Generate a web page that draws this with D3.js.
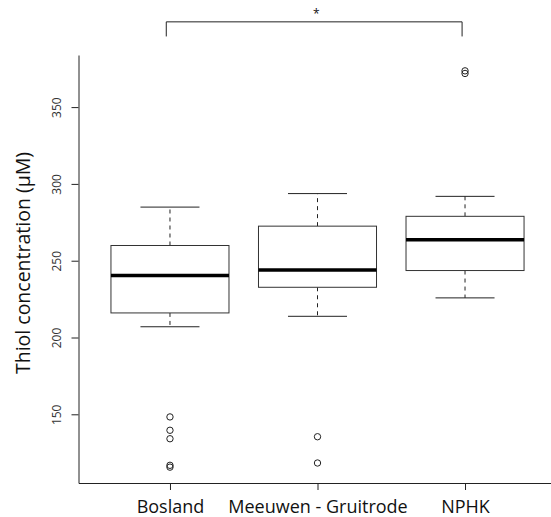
<!DOCTYPE html>
<html>
<head>
<meta charset="utf-8">
<script src="https://cdn.jsdelivr.net/npm/d3@7"></script>
<style>
  body { margin: 0; background: #fff; }
  svg text { font-family: "Open Sans", sans-serif; fill: #111; }
</style>
</head>
<body>
<svg id="chart" width="551" height="517"></svg>
<script>
// box statistics (µM)
const groups = ["Bosland", "Meeuwen - Gruitrode", "NPHK"];
const whiskerLow = [207, 213.8, 225.8];
const q1 = [216, 232.7, 243.6];
const medians = [240.3, 244, 263.6];
const q3 = [259.9, 272.5, 278.9];
const whiskerHigh = [284.9, 293.7, 291.9];
const outliers = [
    [148.3, 139.6, 134.1, 116.8, 115.6],
    [135.4, 118.3],
    [373.6, 371.9]
];
const yTicks = [150, 200, 250, 300, 350];
const yTitle = "Thiol concentration (\u00b5M)";
// significance bracket between Bosland and NPHK
const sigGroups = [0.975, 2.98];
const sigLevels = [396, 405.5];
const sigLabel = "*";

let svg = d3.select("#chart");

// R style: x from 0.5 to n+0.5, both axes padded 4%
let n = groups.length;
let xPad = n * 0.04;
let x = d3.scaleLinear()
    .domain([0.5 - xPad, n + 0.5 + xPad])
    .range([78.5, 556.5]);

let allValues = whiskerLow.concat(whiskerHigh, outliers.flat());
let yMin = d3.min(allValues), yMax = d3.max(allValues);
let yPad = (yMax - yMin) * 0.04;
let y = d3.scaleLinear()
    .domain([yMin - yPad, yMax + yPad])
    .range([483, 55]);

let boxWidth = 0.8;   // boxwex
let stapleWidth = 0.4; // half of box

let data = groups.map(function (g, i) {
    return {
        name: g, pos: i + 1,
        lo: whiskerLow[i], q1: q1[i], med: medians[i], q3: q3[i], hi: whiskerHigh[i],
        out: outliers[i]
    };
});

let box = svg.append("g").selectAll("g")
    .data(data)
    .join("g");

// dashed whiskers
box.append("line")
    .attr("x1", d => x(d.pos)).attr("x2", d => x(d.pos))
    .attr("y1", d => y(d.q3)).attr("y2", d => y(d.hi))
    .attr("stroke", "#222").attr("stroke-dasharray", "4,4");
box.append("line")
    .attr("x1", d => x(d.pos)).attr("x2", d => x(d.pos))
    .attr("y1", d => y(d.q1)).attr("y2", d => y(d.lo))
    .attr("stroke", "#222").attr("stroke-dasharray", "4,4");

// staples
box.append("line")
    .attr("x1", d => x(d.pos - stapleWidth / 2)).attr("x2", d => x(d.pos + stapleWidth / 2))
    .attr("y1", d => y(d.hi)).attr("y2", d => y(d.hi))
    .attr("stroke", "#222");
box.append("line")
    .attr("x1", d => x(d.pos - stapleWidth / 2)).attr("x2", d => x(d.pos + stapleWidth / 2))
    .attr("y1", d => y(d.lo)).attr("y2", d => y(d.lo))
    .attr("stroke", "#222");

// boxes
box.append("rect")
    .attr("x", d => x(d.pos - boxWidth / 2))
    .attr("width", d => x(d.pos + boxWidth / 2) - x(d.pos - boxWidth / 2))
    .attr("y", d => y(d.q3))
    .attr("height", d => y(d.q1) - y(d.q3))
    .attr("fill", "white")
    .attr("stroke", "#333");

// medians
box.append("line")
    .attr("x1", d => x(d.pos - boxWidth / 2)).attr("x2", d => x(d.pos + boxWidth / 2))
    .attr("y1", d => y(d.med)).attr("y2", d => y(d.med))
    .attr("stroke", "black").attr("stroke-width", 3.5);

// outliers
box.selectAll("circle")
    .data(d => d.out.map(v => ({ pos: d.pos, v: v })))
    .join("circle")
    .attr("cx", d => x(d.pos))
    .attr("cy", d => y(d.v))
    .attr("r", 3.2)
    .attr("fill", "none")
    .attr("stroke", "#222");

// y axis
let yAxis = svg.append("g")
    .attr("transform", "translate(" + x.range()[0] + ",0)")
    .call(d3.axisLeft(y).tickValues(yTicks).tickSize(7).tickSizeOuter(0));
yAxis.selectAll("text")
    .attr("transform", "rotate(-90)")
    .attr("x", 0).attr("y", -18).attr("dy", 0)
    .attr("text-anchor", "middle")
    .attr("font-size", "12px")
    .style("fill", "#333");

// x axis
let xAxis = svg.append("g")
    .attr("transform", "translate(0," + y.range()[0] + ")")
    .call(d3.axisBottom(x).tickValues(data.map(d => d.pos))
        .tickFormat((d, i) => groups[i]).tickSize(7).tickSizeOuter(0));
xAxis.selectAll("text")
    .attr("y", 30).attr("dy", 0)
    .attr("font-size", "18px");

svg.selectAll(".domain, .tick line").attr("stroke", "#222");

// y title
svg.append("text")
    .attr("transform", "translate(30," + (d3.mean(y.range()) - 6) + ") rotate(-90)")
    .attr("text-anchor", "middle")
    .attr("font-size", "19.5px")
    .text(yTitle);

// significance bracket
svg.append("path")
    .attr("d", d3.line()([
        [x(sigGroups[0]), y(sigLevels[0])],
        [x(sigGroups[0]), y(sigLevels[1])],
        [x(sigGroups[1]), y(sigLevels[1])],
        [x(sigGroups[1]), y(sigLevels[0])]
    ]))
    .attr("fill", "none")
    .attr("stroke", "#222");

svg.append("text")
    .attr("x", x(d3.mean(sigGroups)) + 2)
    .attr("y", y(sigLevels[1]) - 4)
    .attr("text-anchor", "middle")
    .attr("font-size", "12px")
    .text(sigLabel);
</script>
</body>
</html>
